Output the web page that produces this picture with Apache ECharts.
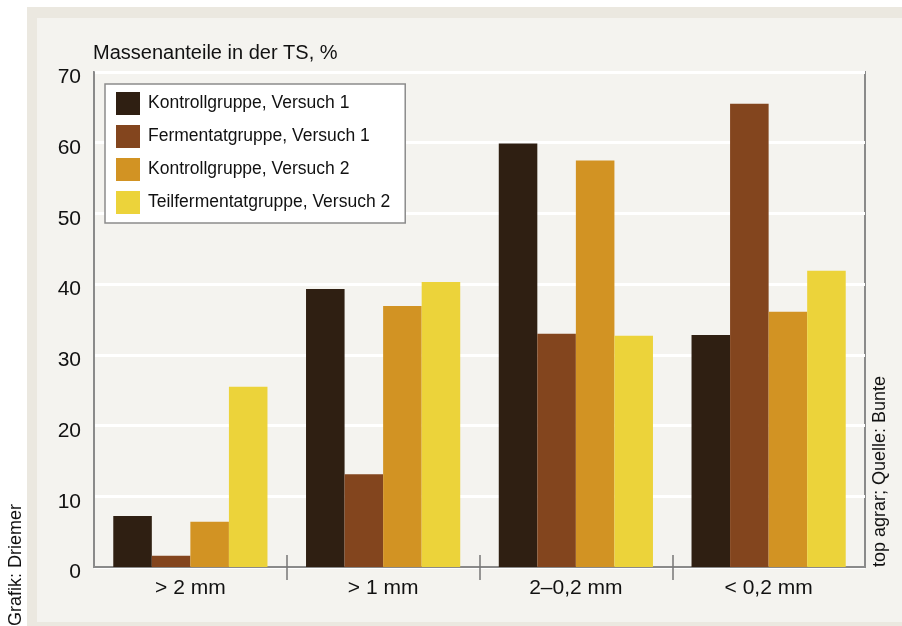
<!DOCTYPE html>
<html>
<head>
<meta charset="utf-8">
<script src="https://cdn.jsdelivr.net/npm/echarts@6/dist/echarts.min.js"></script>
<style>
  html, body { margin: 0; padding: 0; background: #ffffff; }
  #wrap { position: relative; width: 902px; height: 626px; overflow: hidden; background: #ffffff; }
  /* beige frame and light panel behind the chart */
  #frame { position: absolute; left: 27px; top: 7px; right: 0; bottom: 0; background: #ebe8e0; }
  #panel { position: absolute; left: 37px; top: 18px; right: 0; bottom: 4px; background: #f4f3ef; }
  #chart { position: absolute; left: 0; top: 0; width: 902px; height: 626px; }
</style>
</head>
<body>
<div id="wrap">
  <div id="frame"></div>
  <div id="panel"></div>
  <div id="chart"></div>
</div>
<script>
// Particle size classes on the category axis
const categories = ['> 2 mm', '> 1 mm', '2\u20130,2 mm', '< 0,2 mm'];

// Mass fractions in dry matter (%), one array per group
const kontrollV1 = [7.2, 39.3, 59.9, 32.8];
const fermentV1 = [1.6, 13.1, 33.0, 65.5];
const kontrollV2 = [6.4, 36.9, 57.5, 36.1];
const teilfermentV2 = [25.5, 40.3, 32.7, 41.9];

const seriesNames = [
  'Kontrollgruppe, Versuch 1',
  'Fermentatgruppe, Versuch 1',
  'Kontrollgruppe, Versuch 2',
  'Teilfermentatgruppe, Versuch 2'
];
const seriesColors = ['#2f1f12', '#83451e', '#d29323', '#ecd33a'];

const yTicks = { min: 0, max: 70, interval: 10 };
const yAxisTitle = 'Massenanteile in der TS, %';
const sourceText = 'top agrar; Quelle: Bunte';
const creditText = 'Grafik: Driemer';

const FONT = "'Liberation Sans', Arial, sans-serif";

const chart = echarts.init(document.getElementById('chart'), null, { renderer: 'canvas' });

const values = [kontrollV1, fermentV1, kontrollV2, teilfermentV2];

// separator ticks between the size classes (on a helper 0..4 value axis)
const tickAxisBase = {
  type: 'value', min: 0, max: 4, position: 'bottom', gridIndex: 0,
  axisLine: { show: false }, axisLabel: { show: false }, splitLine: { show: false }
};

chart.setOption({
  backgroundColor: 'transparent',
  animation: false,
  textStyle: { fontFamily: FONT },
  grid: {
    left: 94, right: 37, top: 72, bottom: 59,
    show: true, borderColor: '#8a8a8a', borderWidth: 2, backgroundColor: 'transparent'
  },
  legend: {
    orient: 'vertical',
    left: 105, top: 84,
    itemWidth: 24, itemHeight: 23, itemGap: 10,
    icon: 'rect',
    backgroundColor: '#ffffff',
    borderColor: '#8c8c8c', borderWidth: 1.5,
    padding: [8, 15, 9, 11],
    textStyle: { fontFamily: FONT, fontSize: 17.5, color: '#111111', lineHeight: 23, padding: [0, 0, 0, 3] },
    data: seriesNames
  },
  xAxis: [
    {
      type: 'category',
      data: categories,
      axisLine: { show: true, lineStyle: { color: '#8a8a8a', width: 2 } },
      axisTick: { show: false },
      axisLabel: { fontFamily: FONT, fontSize: 21, color: '#111111', margin: 11 },
      splitLine: { show: false }
    },
    Object.assign({}, tickAxisBase, {
      axisTick: { show: true, customValues: [1, 2, 3], length: 13, lineStyle: { color: '#777777', width: 1.5 } }
    }),
    Object.assign({}, tickAxisBase, {
      axisTick: { show: true, inside: true, customValues: [1, 2, 3], length: 12, lineStyle: { color: '#777777', width: 1.5 } }
    })
  ],
  yAxis: {
    type: 'value',
    min: yTicks.min, max: yTicks.max, interval: yTicks.interval,
    axisLine: { show: true, lineStyle: { color: '#8a8a8a', width: 2 } },
    axisTick: { show: false },
    axisLabel: {
      fontFamily: FONT, fontSize: 21, color: '#111111', margin: 13,
      verticalAlign: 'top', lineHeight: 11
    },
    splitLine: { show: true, lineStyle: { color: '#ffffff', width: 3 } }
  },
  series: seriesNames.map((name, i) => ({
    name: name,
    type: 'bar',
    data: values[i],
    barGap: '0%',
    barCategoryGap: '20%',
    itemStyle: { color: seriesColors[i] },
    emphasis: { disabled: true }
  })),
  graphic: [
    {
      type: 'text', left: 93, top: 43,
      style: { text: yAxisTitle, font: '20px ' + FONT, fill: '#111111' }
    },
    {
      type: 'text', x: 880, y: 567, rotation: Math.PI / 2,
      style: { text: sourceText, font: '18px ' + FONT, fill: '#111111', textAlign: 'left', textVerticalAlign: 'middle' }
    },
    {
      type: 'text', x: 16, y: 626, rotation: Math.PI / 2,
      style: { text: creditText, font: '18px ' + FONT, fill: '#111111', textAlign: 'left', textVerticalAlign: 'middle' }
    }
  ]
});
</script>
</body>
</html>
